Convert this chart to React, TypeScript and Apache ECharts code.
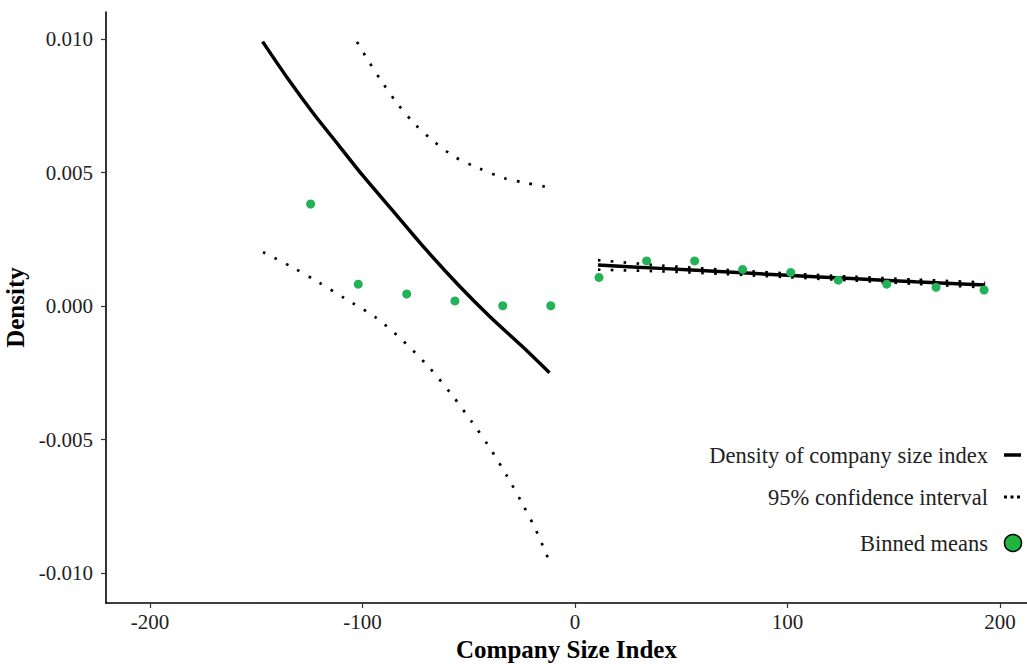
import React, { useEffect, useRef } from "react";
import * as echarts from "echarts";

// Fitted density, left of cutoff
const fitLeftX = [-147, -135, -123, -111, -100, -85, -70, -55, -40, -25, -12];
const fitLeftY = [0.0099, 0.0085, 0.0072, 0.006, 0.0049, 0.0035, 0.0021, 0.0008, -0.0004, -0.0015, -0.0025];

// Fitted density, right of cutoff
const fitRightX = [10.8, 40, 70, 100, 130, 160, 193];
const fitRightY = [0.00154, 0.00141, 0.00128, 0.00115, 0.00103, 0.00091, 0.00079];

// 95% CI, left upper
const ciUpLeftX = [-102.6, -96.9, -90.8, -83.8, -75.8, -67.3, -56.5, -45.6, -33.4, -23.1, -13.6];
const ciUpLeftY = [0.00989, 0.00914, 0.00839, 0.0076, 0.00685, 0.00622, 0.00558, 0.00517, 0.00479, 0.00461, 0.00446];

// 95% CI, left lower
const ciLoLeftX = [-146.8, -134.1, -120.9, -107.8, -94.1, -81.4, -69.2, -57.9, -48.5, -40.0, -32.0, -24.9, -18.4, -12.7];
const ciLoLeftY = [0.00202, 0.0015, 0.0009, 0.00026, -0.00041, -0.00127, -0.00225, -0.00333, -0.00434, -0.00532, -0.00637, -0.00738, -0.00839, -0.00944];

// 95% CI, right upper / lower
const ciUpRightX = [10.8, 40, 70, 100, 130, 160, 193];
const ciUpRightY = [0.00172, 0.00152, 0.00136, 0.00122, 0.0011, 0.00099, 0.00088];
const ciLoRightX = [10.8, 40, 70, 100, 130, 160, 193];
const ciLoRightY = [0.00136, 0.0013, 0.0012, 0.00108, 0.00096, 0.00083, 0.0007];

// Binned means
const binX = [-124.4, -102.0, -79.2, -56.5, -34.0, -11.4, 11.3, 33.7, 56.3, 78.9, 101.5, 123.9, 146.7, 169.9, 192.5];
const binY = [0.00382, 0.00082, 0.00045, 0.00019, 0.00001, 0.00001, 0.00107, 0.00169, 0.00169, 0.00137, 0.00126, 0.00097, 0.00082, 0.0007, 0.0006];

// Tick values
const xTicks = [-200, -100, 0, 100, 200];
const yTicks = [-0.01, -0.005, 0, 0.005, 0.01];

const legendLabels = ["Density of company size index", "95% confidence interval", "Binned means"];

const zip = (xs: number[], ys: number[]) => xs.map((x, i) => [x, ys[i]]);

const SERIF = "'Liberation Serif', 'Times New Roman', serif";
const GREEN = "#22b257";

export default function App() {
  const ref = useRef<HTMLDivElement>(null);

  useEffect(() => {
    if (!ref.current) return;
    const chart = echarts.init(ref.current, null, { renderer: "svg" });

    const solid = { color: "#000", width: 3.5, type: "solid" as const };
    const dotted = { color: "#000", width: 2.7, type: [2.6, 10.3] as any, cap: "butt" as const };

    const lineSeries = (data: number[][], style: any) => ({
      type: "line",
      data,
      showSymbol: false,
      symbol: "none",
      smooth: 0.3,
      lineStyle: style,
      silent: true,
    });

    const legendY = [455, 497, 543];

    chart.setOption({
      animation: false,
      grid: { left: 106, right: 0, top: 12, bottom: 61, containLabel: false, outerBoundsMode: "none" },
      xAxis: {
        type: "value",
        min: -220.7,
        max: 212.7,
        splitLine: { show: false },
        axisLine: { show: true, onZero: false, lineStyle: { color: "#000", width: 1.6 } },
        axisTick: { show: true, length: 5, customValues: xTicks, lineStyle: { color: "#333", width: 1.2 } },
        axisLabel: {
          customValues: xTicks,
          margin: 8,
          fontFamily: SERIF,
          fontSize: 21,
          color: "#222",
        },
        name: "Company Size Index",
        nameLocation: "middle",
        nameGap: 25,
        nameTextStyle: { fontFamily: SERIF, fontSize: 25, fontWeight: "bold", color: "#000" },
      },
      yAxis: {
        type: "value",
        min: -0.01112,
        max: 0.01101,
        splitLine: { show: false },
        axisLine: { show: true, onZero: false, lineStyle: { color: "#000", width: 1.6 } },
        axisTick: { show: true, length: 5, customValues: yTicks, lineStyle: { color: "#333", width: 1.2 } },
        axisLabel: {
          customValues: yTicks,
          margin: 13,
          fontFamily: SERIF,
          fontSize: 21,
          color: "#222",
          formatter: (v: number) => v.toFixed(3),
        },
        name: "Density",
        nameLocation: "middle",
        nameGap: 66,
        nameRotate: 90,
        nameTextStyle: { fontFamily: SERIF, fontSize: 25, fontWeight: "bold", color: "#000" },
      },
      series: [
        lineSeries(zip(ciUpLeftX, ciUpLeftY), dotted),
        lineSeries(zip(ciLoLeftX, ciLoLeftY), dotted),
        lineSeries(zip(ciUpRightX, ciUpRightY), dotted),
        lineSeries(zip(ciLoRightX, ciLoRightY), dotted),
        lineSeries(zip(fitLeftX, fitLeftY), solid),
        lineSeries(zip(fitRightX, fitRightY), solid),
        {
          type: "scatter",
          data: zip(binX, binY),
          symbol: "circle",
          symbolSize: 9,
          itemStyle: { color: GREEN, opacity: 1 },
          silent: true,
          z: 5,
        },
      ],
      graphic: [
        ...legendLabels.map((t, i) => ({
          type: "text",
          x: 988,
          y: legendY[i],
          style: {
            text: t,
            align: "right",
            verticalAlign: "middle",
            fontFamily: SERIF,
            fontSize: 22.5,
            fill: "#222",
          },
        })),
        {
          type: "line",
          shape: { x1: 1004, y1: legendY[0], x2: 1021, y2: legendY[0] },
          style: { stroke: "#000", lineWidth: 3.5 },
        },
        {
          type: "line",
          shape: { x1: 1004, y1: legendY[1], x2: 1021, y2: legendY[1] },
          style: { stroke: "#000", lineWidth: 3, lineDash: [3, 3.5] },
        },
        {
          type: "circle",
          shape: { cx: 1013, cy: legendY[2], r: 8.5 },
          style: { fill: "#1fb53f", stroke: "#000", lineWidth: 1.5 },
        },
      ],
    });

    return () => chart.dispose();
  }, []);

  return (
    <div
      ref={ref}
      style={{ position: "fixed", left: 0, top: 0, width: 1027, height: 664, background: "#fff" }}
    />
  );
}
